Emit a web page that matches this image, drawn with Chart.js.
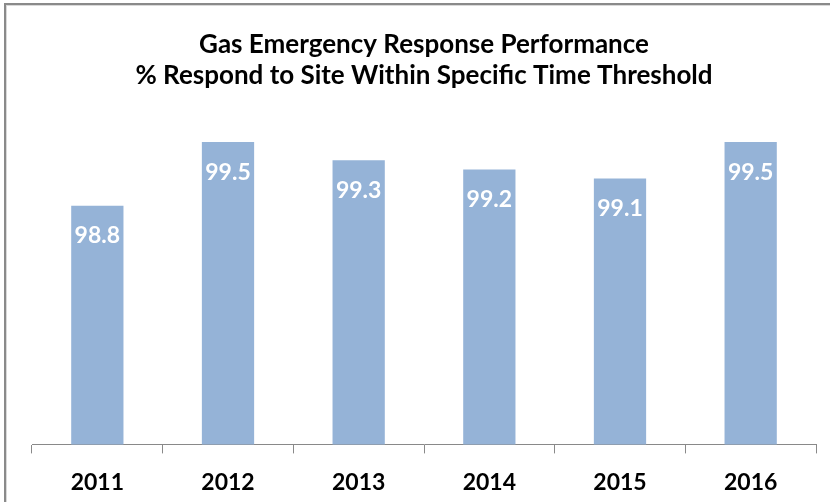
<!DOCTYPE html>
<html>
<head>
<meta charset="utf-8">
<script src="https://cdn.jsdelivr.net/npm/chart.js@4/dist/chart.umd.min.js"></script>
<style>
  html, body { margin: 0; padding: 0; background: #fff; }
  #wrap { width: 830px; height: 502px; }
</style>
</head>
<body>
<div id="wrap"><canvas id="chart" width="830" height="502"></canvas></div>
<script>
const years  = ['2011', '2012', '2013', '2014', '2015', '2016'];
const values = [98.8, 99.5, 99.3, 99.2, 99.1, 99.5];
const titleLines = ['Gas Emergency Response Performance',
                    '% Respond to Site Within Specific Time Threshold'];

const FONT = "Lato, 'Open Sans', sans-serif";

// white page + the grey frame on the left/top edges
const frame = {
  id: 'frame',
  beforeDraw(chart) {
    const c = chart.ctx;
    c.save();
    c.fillStyle = '#fff';
    c.fillRect(0, 0, chart.width, chart.height);
    c.fillStyle = '#d9d9d9';
    c.fillRect(6, 5, 1, chart.height);
    c.fillRect(6, 5, chart.width, 1);
    c.fillStyle = '#8a8a8a';
    c.fillRect(4, 3, 2, chart.height);
    c.fillRect(4, 3, chart.width, 2);
    c.restore();
  }
};

// value labels inside the top of each bar
const barLabels = {
  id: 'barLabels',
  afterDatasetsDraw(chart) {
    const c = chart.ctx;
    const meta = chart.getDatasetMeta(0);
    c.save();
    c.fillStyle = '#ffffff';
    c.font = 'bold 23px ' + FONT;
    c.textAlign = 'center';
    c.textBaseline = 'middle';
    meta.data.forEach((bar, i) => {
      c.fillText(values[i].toFixed(1), bar.x, bar.y + 30);
    });
    c.restore();
  }
};

new Chart(document.getElementById('chart'), {
  type: 'bar',
  data: {
    labels: years,
    datasets: [{
      data: values,
      backgroundColor: '#95b3d7',
      borderWidth: 0,
      barPercentage: 0.4,
      categoryPercentage: 1.0
    }]
  },
  options: {
    responsive: false,
    animation: false,
    layout: { padding: { left: 32, right: 14, top: 0, bottom: -9 } },
    plugins: {
      legend: { display: false },
      tooltip: { enabled: false },
      title: {
        display: true,
        text: titleLines,
        color: '#000',
        font: { family: FONT, size: 26, weight: 'bold', lineHeight: 1.2 },
        padding: { top: 29, bottom: 7 }
      }
    },
    scales: {
      x: {
        grid: { drawOnChartArea: false, drawTicks: true, tickLength: 9,
                color: '#898989', offset: true },
        border: { color: '#898989', width: 1 },
        ticks: { color: '#000', padding: 15,
                 font: { family: FONT, size: 23, weight: 'bold' } }
      },
      y: {
        display: false,
        min: 96.18,
        max: 99.98
      }
    }
  },
  plugins: [frame, barLabels]
});
</script>
</body>
</html>
